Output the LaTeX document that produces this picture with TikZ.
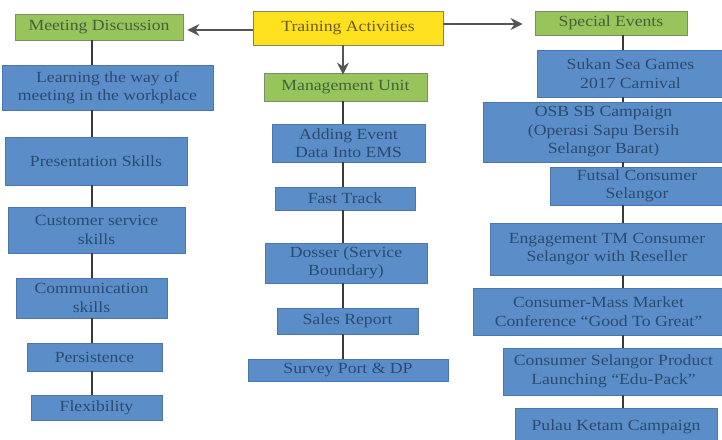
\documentclass[tikz,border=0pt]{standalone}
\usepackage{fontspec}
\setmainfont{Liberation Serif}
\newfontfamily\boxfont[FakeStretch=1.14]{Liberation Serif}
\usetikzlibrary{arrows.meta}
\definecolor{boxblue}{HTML}{5B8EC9}
\definecolor{boxblueedge}{HTML}{4A78AE}
\definecolor{bluetext}{HTML}{2A4A70}
\definecolor{boxgreen}{HTML}{98C45C}
\definecolor{greenedge}{HTML}{7A8C6A}
\definecolor{greentext}{HTML}{46603A}
\definecolor{boxyellow}{HTML}{FFE21F}
\definecolor{yellowedge}{HTML}{8A8060}
\definecolor{yellowtext}{HTML}{6A5A1E}
\definecolor{conn}{HTML}{3A3A3A}
\definecolor{arr}{HTML}{555555}
\tikzset{
  boxbase/.style={rectangle, inner sep=0pt, align=center, line width=0.8pt,
    font=\boxfont\fontsize{15.5}{18.5}\selectfont},
  bluebox/.style={boxbase, fill=boxblue, draw=boxblueedge, text=bluetext},
  greenbox/.style={boxbase, fill=boxgreen, draw=greenedge, text=greentext},
  yellowbox/.style={boxbase, fill=boxyellow, draw=yellowedge, text=yellowtext},
  link/.style={draw=conn, line width=2.6pt},
  toparrow/.style={draw=arr, line width=2pt, -{Stealth[length=12pt,width=12pt,inset=4pt]}}
}
\newcommand\bx[7]{%
  \node[#6, minimum width={(#4-#2)*1pt}, minimum height={(#5-#3)*1pt}]
    (#1) at ({(#2+#4)/2},{(#3+#5)/2}) {#7};}
\begin{document}
\begin{tikzpicture}[x=1pt,y=-1pt]
\useasboundingbox (0,0) rectangle (722,439);
\clip (0,0) rectangle (722,439);
\fill[white] (0,0) rectangle (722,439);
\coordinate (lx) at (92,0);
\coordinate (mx) at (343,0);
\coordinate (rx) at (623,0);
% left column
\bx{md}{15}{14}{183}{40}{greenbox}{Meeting Discussion}
\bx{l1}{2}{65}{213}{110}{bluebox}{Learning the way of\\meeting in the workplace}
\bx{l2}{5}{137}{187}{185}{bluebox}{Presentation Skills}
\bx{l3}{8}{207}{185}{253}{bluebox}{Customer service\\skills}
\bx{l4}{16}{278}{167}{318}{bluebox}{Communication\\skills}
\bx{l5}{27}{343}{162}{371}{bluebox}{Persistence}
\bx{l6}{31}{395}{162}{420}{bluebox}{Flexibility}
% middle column
\bx{ta}{253}{11}{443}{45}{yellowbox}{Training Activities}
\bx{mu}{264}{73}{427}{101}{greenbox}{Management Unit}
\bx{m1}{272}{124}{425}{162}{bluebox}{Adding Event\\Data Into EMS}
\bx{m2}{275}{187}{415}{210}{bluebox}{Fast Track}
\bx{m3}{265}{243}{427}{283}{bluebox}{Dosser (Service\\Boundary)}
\bx{m4}{277}{308}{418}{334}{bluebox}{Sales Report}
\bx{m5}{248}{359}{448}{381}{bluebox}{Survey Port \& DP}
% right column
\bx{se}{535}{11}{687}{35}{greenbox}{Special Events}
\bx{r1}{537}{50}{724}{97}{bluebox}{Sukan Sea Games\\2017 Carnival}
\bx{r2}{483}{102}{724}{162}{bluebox}{OSB SB Campaign\\(Operasi Sapu Bersih\\Selangor Barat)}
\bx{r3}{550}{167}{724}{205}{bluebox}{Futsal Consumer\\Selangor}
\bx{r4}{490}{223}{724}{275}{bluebox}{Engagement TM Consumer\\Selangor with Reseller}
\bx{r5}{473}{288}{724}{335}{bluebox}{Consumer-Mass Market\\Conference “Good To Great”}
\bx{r6}{503}{348}{724}{395}{bluebox}{Consumer Selangor Product\\Launching “Edu-Pack”}
\bx{r7}{515}{408}{717}{446}{bluebox}{Pulau Ketam Campaign}
% connectors
\foreach \a/\b in {md/l1,l1/l2,l2/l3,l3/l4,l4/l5,l5/l6}
  \draw[link] (\a.south -| lx) -- (\b.north -| lx);
\foreach \a/\b in {mu/m1,m1/m2,m2/m3,m3/m4,m4/m5}
  \draw[link] (\a.south -| mx) -- (\b.north -| mx);
\foreach \a/\b in {se/r1,r1/r2,r2/r3,r3/r4,r4/r5,r5/r6,r6/r7}
  \draw[link] (\a.south -| rx) -- (\b.north -| rx);
% arrows
\draw[toparrow] (ta.south -| mx) -- ([yshift=-2pt]mu.north -| mx);
\draw[toparrow] ([yshift=-2pt]ta.west) -- ([xshift=4pt,yshift=-2pt]ta.west -| md.east);
\draw[toparrow] ([yshift=4pt]ta.east) -- ([xshift=-12pt,yshift=4pt]ta.east -| se.west);
\end{tikzpicture}
\end{document}
